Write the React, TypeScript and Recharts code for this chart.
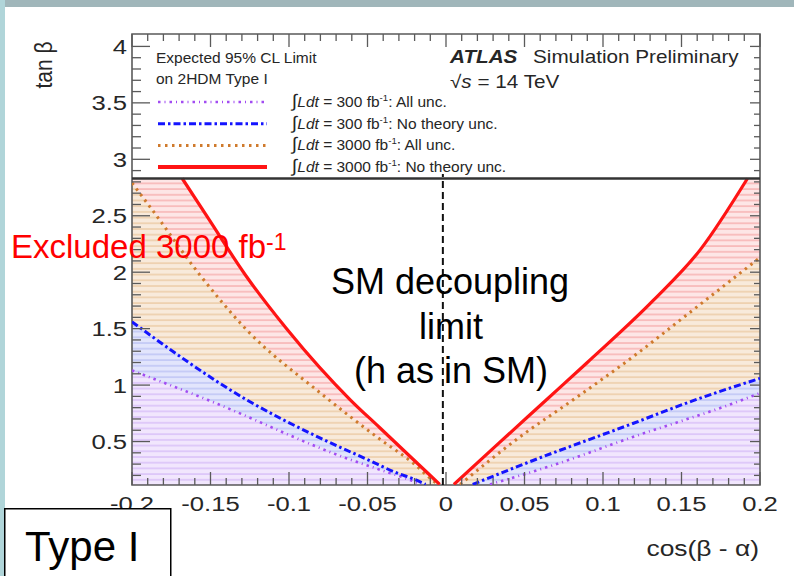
import React from "react";
import {
  ComposedChart,
  Area,
  Line,
  XAxis,
  YAxis,
  ReferenceArea,
  ReferenceLine,
  Legend,
} from "recharts";

// ---------------------------------------------------------------------------
// Data: expected tan(beta) limits vs cos(beta - alpha).
// Every limit has a branch for cos < 0 (left) and cos > 0 (right).
// ---------------------------------------------------------------------------

interface Pt {
  x: number;
  y: number;
}

// 300 fb-1, all unc.
const purpleLeft: Pt[] = [
  { x: -0.2, y: 1.13 },
  { x: -0.152, y: 0.87 },
  { x: -0.061, y: 0.34 },
  { x: -0.042, y: 0.25 },
  { x: -0.023, y: 0.16 },
  { x: -0.016, y: 0.12 },
];
const purpleRight: Pt[] = [
  { x: 0.028, y: 0.12 },
  { x: 0.066, y: 0.28 },
  { x: 0.119, y: 0.54 },
  { x: 0.189, y: 0.87 },
  { x: 0.2, y: 0.93 },
];

// 300 fb-1, no theory unc.
const blueLeft: Pt[] = [
  { x: -0.2, y: 1.56 },
  { x: -0.127, y: 0.87 },
  { x: -0.08, y: 0.53 },
  { x: -0.05, y: 0.34 },
  { x: -0.031, y: 0.22 },
  { x: -0.021, y: 0.17 },
  { x: -0.013, y: 0.12 },
];
const blueRight: Pt[] = [
  { x: 0.017, y: 0.12 },
  { x: 0.055, y: 0.33 },
  { x: 0.119, y: 0.66 },
  { x: 0.157, y: 0.86 },
  { x: 0.2, y: 1.06 },
];

// 3000 fb-1, all unc.
const orangeLeft: Pt[] = [
  { x: -0.2, y: 2.79 },
  { x: -0.187, y: 2.55 },
  { x: -0.157, y: 1.98 },
  { x: -0.127, y: 1.49 },
  { x: -0.08, y: 0.93 },
  { x: -0.042, y: 0.52 },
  { x: -0.021, y: 0.31 },
  { x: -0.007, y: 0.14 },
  { x: -0.005, y: 0.12 },
];
const orangeRight: Pt[] = [
  { x: 0.009, y: 0.12 },
  { x: 0.047, y: 0.54 },
  { x: 0.081, y: 0.87 },
  { x: 0.119, y: 1.25 },
  { x: 0.155, y: 1.64 },
  { x: 0.2, y: 2.13 },
];

// 3000 fb-1, no theory unc. (meets the legend floor at both ends)
const redLeft: Pt[] = [
  { x: -0.168, y: 2.83 },
  { x: -0.152, y: 2.49 },
  { x: -0.128, y: 1.98 },
  { x: -0.101, y: 1.49 },
  { x: -0.061, y: 0.87 },
  { x: -0.042, y: 0.62 },
  { x: -0.023, y: 0.37 },
  { x: -0.004, y: 0.12 },
];
const redRight: Pt[] = [
  { x: 0.005, y: 0.12 },
  { x: 0.034, y: 0.49 },
  { x: 0.064, y: 0.87 },
  { x: 0.09, y: 1.2 },
  { x: 0.132, y: 1.75 },
  { x: 0.162, y: 2.2 },
  { x: 0.192, y: 2.83 },
];
// corners of the excluded band hidden under the legend floor
const redCapLeft: Pt[] = [{ x: -0.2, y: 2.83 }];
const redCapRight: Pt[] = [{ x: 0.2, y: 2.83 }];

const LUMI = ["300", "300", "3000", "3000"];
const UNC = ["All unc.", "No theory unc.", "All unc.", "No theory unc."];

const X_MAJOR = [-0.2, -0.15, -0.1, -0.05, 0, 0.05, 0.1, 0.15, 0.2];
const Y_MAJOR = [0.5, 1, 1.5, 2, 2.5, 3, 3.5, 4];
const X_TICKS = Array.from({ length: 41 }, (_, i) => Math.round(-20 + i) / 100);
const Y_TICKS = Array.from({ length: 39 }, (_, i) => Math.round(2 + i) / 10);

const X_DOMAIN: [number, number] = [-0.2, 0.2];
const Y_DOMAIN: [number, number] = [0.115, 4.11];
const LEGEND_FLOOR = 2.83;
const ZERO_LINE = -0.002;

// ---------------------------------------------------------------------------
// Styles
// ---------------------------------------------------------------------------

const FONT = "'Liberation Sans', Arial, Helvetica, sans-serif";
const INK = "#262626";
const AXIS = "#5a5a5a";

const PURPLE = "#a24cf2";
const BLUE = "#1414ff";
const ORANGE = "#cf7a2c";
const RED = "#ff1414";

const PLOT = { left: 132, right: 760, top: 34, bottom: 485 };

// purple, blue, orange, red (legend order)
const HATCH = [
  { id: "hatch-purple", bg: "#f1e6fd", line: "#dcc5f9" },
  { id: "hatch-blue", bg: "#e2e5fc", line: "#c3c9f6" },
  { id: "hatch-orange", bg: "#f8eadb", line: "#eed0ae" },
  { id: "hatch-red", bg: "#fde6e6", line: "#f8b9b9" },
];

const LINE_STYLES = [
  { color: PURPLE, width: 2.6, dash: "2.5 4 1 4" },
  { color: BLUE, width: 3, dash: "7 3 2.5 3" },
  { color: ORANGE, width: 3, dash: "2.5 4.5" },
  { color: RED, width: 3.2, dash: undefined as string | undefined },
];

// ---------------------------------------------------------------------------
// Axis ticks (ROOT style: inward, mirrored on the opposite side)
// ---------------------------------------------------------------------------

const fmt = (v: number) => {
  const r = Math.round(v * 100) / 100;
  return r === 0 ? "0" : String(r);
};

const XTick = (props: any) => {
  const { x, payload } = props;
  const v = Math.round(payload.value * 100) / 100;
  const major = X_MAJOR.includes(v);
  const len = major ? 13 : 7;
  return (
    <g>
      <line x1={x} x2={x} y1={PLOT.bottom} y2={PLOT.bottom - len} stroke={AXIS} strokeWidth={1.3} />
      <line x1={x} x2={x} y1={PLOT.top} y2={PLOT.top + len} stroke={AXIS} strokeWidth={1.3} />
      {major && (
        <text
          transform={`translate(${x},511) scale(1.25,1)`}
          textAnchor="middle"
          fontSize={20.5}
          fontFamily={FONT}
          fill={INK}
        >
          {fmt(v)}
        </text>
      )}
    </g>
  );
};

const YTick = (props: any) => {
  const { y, payload } = props;
  const v = Math.round(payload.value * 10) / 10;
  const major = Y_MAJOR.includes(v);
  return (
    <g>
      <line x1={PLOT.left} x2={PLOT.left + (major ? 18 : 9)} y1={y} y2={y} stroke={AXIS} strokeWidth={1.3} />
      <line x1={PLOT.right} x2={PLOT.right - (major ? 10 : 6)} y1={y} y2={y} stroke={AXIS} strokeWidth={1.3} />
      {major && (
        <text
          transform={`translate(127,${y + 7.5}) scale(1.25,1)`}
          textAnchor="end"
          fontSize={20.5}
          fontFamily={FONT}
          fill={INK}
        >
          {fmt(v)}
        </text>
      )}
    </g>
  );
};

// ---------------------------------------------------------------------------
// Legend box (drawn in its own svg, placed over the white legend area)
// ---------------------------------------------------------------------------

const LegendBox = () => (
  <svg width={640} height={150} style={{ display: "block", overflow: "visible" }}>
    <g fontFamily={FONT} fill={INK}>
      <text transform="translate(26,33) scale(1.07,1)" fontSize={14.5}>
        Expected 95% CL Limit
      </text>
      <text transform="translate(26,54) scale(1.07,1)" fontSize={14.5}>
        on 2HDM Type I
      </text>
      {LUMI.map((lumi, i) => {
        const s = LINE_STYLES[i];
        const ly = 72 + i * 21.7;
        return (
          <g key={i}>
            <line
              x1={28}
              x2={137}
              y1={ly}
              y2={ly}
              stroke={s.color}
              strokeWidth={i === 3 ? 4 : s.width}
              strokeDasharray={s.dash}
            />
            <text transform={`translate(162,${ly + 5}) scale(1.07,1)`} fontSize={14.5}>
              <tspan fontSize={18}>∫</tspan>
              <tspan fontStyle="italic">Ldt</tspan>
              {` = ${lumi} fb`}
              <tspan dy={-6} fontSize={9}>
                -1
              </tspan>
              <tspan dy={6}>{`:  ${UNC[i]}`}</tspan>
            </text>
          </g>
        );
      })}
      <text
        transform="translate(320,32.5) scale(1.15,1)"
        fontSize={18}
        fontWeight="bold"
        fontStyle="italic"
      >
        ATLAS
      </text>
      <text transform="translate(403,32.5) scale(1.15,1)" fontSize={18}>
        Simulation Preliminary
      </text>
      <text transform="translate(320,58) scale(1.15,1)" fontSize={18}>
        √<tspan fontStyle="italic">s</tspan> = 14 TeV
      </text>
    </g>
  </svg>
);

// ---------------------------------------------------------------------------
// App
// ---------------------------------------------------------------------------

// fills use straight segments (so the capped corners stay square),
// the boundary strokes on top are smoothed
const areaProps = {
  dataKey: "y",
  type: "linear" as const,
  stroke: "none",
  fillOpacity: 1,
  baseValue: "dataMin" as const,
  isAnimationActive: false,
  legendType: "none" as const,
  activeDot: false,
};

const lineProps = {
  dataKey: "y",
  type: "monotone" as const,
  dot: false,
  activeDot: false,
  isAnimationActive: false,
  legendType: "none" as const,
};

const SERIES: { left: Pt[]; right: Pt[]; fillLeft: Pt[]; fillRight: Pt[] }[] = [
  { left: purpleLeft, right: purpleRight, fillLeft: purpleLeft, fillRight: purpleRight },
  { left: blueLeft, right: blueRight, fillLeft: blueLeft, fillRight: blueRight },
  { left: orangeLeft, right: orangeRight, fillLeft: orangeLeft, fillRight: orangeRight },
  {
    left: redLeft,
    right: redRight,
    fillLeft: [...redCapLeft, ...redLeft],
    fillRight: [...redRight, ...redCapRight],
  },
];
const FILL_ORDER = [3, 2, 1, 0];

export default function App() {
  return (
    <div
      style={{
        position: "absolute",
        left: 0,
        top: 0,
        width: 794,
        height: 576,
        background: "#fff",
        overflow: "hidden",
      }}
    >
      <ComposedChart
        width={794}
        height={576}
        margin={{ top: 34, right: 34, bottom: 61, left: 72 }}
      >
        <defs>
          {HATCH.map((h) => (
            <pattern key={h.id} id={h.id} patternUnits="userSpaceOnUse" width={8} height={5.7}>
              <rect width={8} height={5.7} fill={h.bg} />
              <line x1={0} x2={8} y1={1} y2={1} stroke={h.line} strokeWidth={1.7} />
            </pattern>
          ))}
        </defs>

        <ReferenceArea
          x1={X_DOMAIN[0]}
          x2={X_DOMAIN[1]}
          y1={LEGEND_FLOOR}
          y2={Y_DOMAIN[1]}
          fill="#fff"
          fillOpacity={1}
          stroke="none"
        />

        {FILL_ORDER.map((i) => [
          <Area key={`al${i}`} {...areaProps} data={SERIES[i].fillLeft} fill={`url(#${HATCH[i].id})`} />,
          <Area key={`ar${i}`} {...areaProps} data={SERIES[i].fillRight} fill={`url(#${HATCH[i].id})`} />,
        ])}

        {SERIES.map((s, i) => [
          <Line
            key={`ll${i}`}
            {...lineProps}
            data={s.left}
            stroke={LINE_STYLES[i].color}
            strokeWidth={LINE_STYLES[i].width}
            strokeDasharray={LINE_STYLES[i].dash}
          />,
          <Line
            key={`lr${i}`}
            {...lineProps}
            data={s.right}
            stroke={LINE_STYLES[i].color}
            strokeWidth={LINE_STYLES[i].width}
            strokeDasharray={LINE_STYLES[i].dash}
          />,
        ])}

        <ReferenceLine y={LEGEND_FLOOR} stroke="#333" strokeWidth={2.4} />
        <ReferenceLine
          segment={[
            { x: ZERO_LINE, y: Y_DOMAIN[0] },
            { x: ZERO_LINE, y: LEGEND_FLOOR + 0.04 },
          ]}
          stroke="#111"
          strokeWidth={2}
          strokeDasharray="7 4"
        />
        <ReferenceArea
          x1={X_DOMAIN[0]}
          x2={X_DOMAIN[1]}
          y1={Y_DOMAIN[0]}
          y2={Y_DOMAIN[1]}
          fill="none"
          stroke={AXIS}
          strokeWidth={1.6}
        />

        <XAxis
          dataKey="x"
          type="number"
          domain={X_DOMAIN}
          allowDataOverflow
          ticks={X_TICKS}
          interval={0}
          height={30}
          axisLine={false}
          tickLine={false}
          tick={<XTick />}
          label={() => (
            <text
              transform="translate(759,556) scale(1.2,1)"
              textAnchor="end"
              fontSize={22}
              fontFamily={FONT}
              fill={INK}
            >
              cos(β - α)
            </text>
          )}
        />
        <YAxis
          type="number"
          domain={Y_DOMAIN}
          allowDataOverflow
          ticks={Y_TICKS}
          interval={0}
          width={60}
          axisLine={false}
          tickLine={false}
          tick={<YTick />}
          label={() => (
            <text
              transform="translate(52,65) rotate(-90) scale(1,1.15)"
              textAnchor="middle"
              fontSize={21}
              fontFamily={FONT}
              fill={INK}
            >
              tan β
            </text>
          )}
        />

        <Legend
          layout="horizontal"
          verticalAlign="middle"
          align="center"
          wrapperStyle={{ left: 130, top: 30, width: 640, height: 150 }}
          content={() => <LegendBox />}
        />
      </ComposedChart>

      {/* slide annotations on top of the figure */}
      <svg
        width={794}
        height={576}
        style={{ position: "absolute", left: 0, top: 0, pointerEvents: "none" }}
      >
        <rect x={0} y={0} width={5} height={576} fill="#b0d5d9" />
        <rect x={5} y={0} width={789} height={7} fill="#a0b6ba" />
        <g fontFamily={FONT}>
          <text x={11} y={258} fontSize={33} fill="#ff0000">
            Excluded 3000 fb
            <tspan dy={-8} fontSize={23}>
              -1
            </tspan>
          </text>
          <g textAnchor="middle" fontSize={36} fill="#000">
            <text x={450} y={294}>
              SM decoupling
            </text>
            <text x={451} y={339}>
              limit
            </text>
            <text x={451} y={383}>
              (h as in SM)
            </text>
          </g>
          <rect x={4.75} y={508.75} width={166} height={80} fill="#fff" stroke="#000" strokeWidth={1.5} />
          <text x={25} y={561} fontSize={42} fill="#000">
            Type I
          </text>
        </g>
      </svg>
    </div>
  );
}
